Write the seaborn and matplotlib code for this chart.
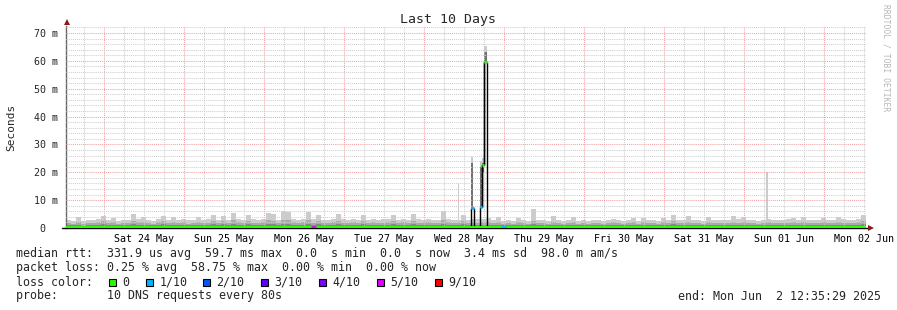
import numpy as np
import pandas as pd
import matplotlib
matplotlib.use("Agg")
import matplotlib.pyplot as plt
import matplotlib.dates as mdates
from matplotlib.ticker import MultipleLocator, FuncFormatter, NullFormatter
from matplotlib.patches import Rectangle
import seaborn as sns

# ---------------- data ----------------
start = pd.Timestamp("2025-05-23 12:35:29")
end = pd.Timestamp("2025-06-02 12:35:29")
bin_hours = 1.5

# smoke (ms): top of light / mid / dark gray bands, one value per 1.5 h bin
smoke_max = [2.8, 2.6, 4.0, 2.5, 2.9, 2.7, 3.1, 4.4, 2.8, 3.6,
             2.6, 3.0, 2.7, 4.9, 3.2, 4.0, 2.9, 2.6, 3.3, 4.4,
             3.0, 4.0, 2.8, 3.2, 2.7, 3.0, 4.0, 2.9, 3.1, 4.7,
             2.8, 4.3, 3.0, 5.3, 3.2, 2.9, 4.5, 3.1, 2.7, 3.4,
             5.3, 4.9, 3.0, 6.2, 5.7, 3.2, 2.9, 3.4, 5.7, 3.1,
             4.5, 3.0, 2.8, 3.3, 5.0, 3.1, 2.9, 3.2, 2.7, 4.8,
             3.0, 3.3, 2.8, 3.1, 3.4, 4.5, 2.9, 3.2, 3.0, 5.0,
             3.1, 2.8, 3.3, 3.0, 2.9, 6.0, 3.2, 3.0, 2.8, 4.5,
             3.0, 3.4, 3.1, 3.2, 3.6, 2.7, 3.8, 2.6, 2.9, 2.5,
             3.6, 2.8, 2.6, 6.8, 2.7, 2.9, 2.5, 4.3, 2.8, 2.6,
             2.9, 3.8, 2.6, 2.8, 2.5, 3.0, 2.7, 2.6, 2.9, 3.4,
             2.7, 2.5, 2.8, 3.5, 2.6, 3.6, 2.9, 2.7, 2.6, 3.5,
             2.8, 4.8, 2.9, 2.7, 4.2, 3.0, 2.8, 2.6, 3.8, 3.0,
             2.7, 2.9, 2.8, 4.2, 3.1, 3.9, 2.8, 2.9, 2.6, 3.0,
             3.2, 2.7, 2.9, 2.8, 3.1, 3.6, 2.7, 3.9, 2.9, 2.8,
             3.0, 3.6, 2.7, 2.9, 4.0, 3.1, 2.8, 3.0, 3.3, 4.5]
smoke_mid = [1.8, 1.6, 2.2, 1.5, 1.9, 1.7, 2.0, 2.4, 1.8, 2.1,
             1.6, 1.9, 1.7, 2.6, 2.0, 2.3, 1.8, 1.6, 2.0, 2.4,
             1.9, 2.2, 1.7, 2.0, 1.6, 1.9, 2.3, 1.8, 1.9, 2.5,
             1.7, 2.4, 1.9, 2.8, 2.0, 1.8, 2.4, 1.9, 1.7, 2.1,
             2.7, 2.5, 1.9, 3.0, 2.9, 2.0, 1.8, 2.1, 2.8, 1.9,
             2.4, 1.9, 1.7, 2.0, 2.6, 1.9, 1.8, 2.0, 1.7, 2.5,
             1.9, 2.0, 1.7, 1.9, 2.1, 2.4, 1.8, 2.0, 1.9, 2.6,
             1.9, 1.7, 2.0, 1.9, 1.8, 2.9, 2.0, 1.9, 1.7, 2.4,
             1.9, 2.1, 1.9, 2.0, 2.2, 1.7, 2.2, 1.6, 1.8, 1.6,
             2.1, 1.7, 1.6, 2.5, 1.7, 1.8, 1.6, 2.3, 1.7, 1.6,
             1.8, 2.1, 1.6, 1.7, 1.6, 1.9, 1.7, 1.6, 1.8, 2.0,
             1.7, 1.6, 1.7, 2.0, 1.6, 2.1, 1.8, 1.7, 1.6, 2.0,
             1.7, 2.5, 1.8, 1.7, 2.3, 1.9, 1.7, 1.6, 2.1, 1.9,
             1.7, 1.8, 1.7, 2.3, 1.9, 2.2, 1.7, 1.8, 1.6, 1.9,
             2.0, 1.7, 1.8, 1.7, 1.9, 2.1, 1.7, 2.2, 1.8, 1.7,
             1.9, 2.1, 1.7, 1.8, 2.3, 1.9, 1.7, 1.9, 2.0, 2.5]
smoke_low = [1.0, 0.9, 1.2, 0.8, 1.1, 0.9, 1.0, 1.3, 1.0, 1.1,
             0.9, 1.0, 0.9, 1.4, 1.1, 1.2, 1.0, 0.9, 1.1, 1.3,
             1.0, 1.2, 0.9, 1.1, 0.9, 1.0, 1.2, 1.0, 1.0, 1.3,
             0.9, 1.3, 1.0, 1.5, 1.1, 1.0, 1.3, 1.0, 0.9, 1.1,
             1.4, 1.3, 1.0, 1.6, 1.5, 1.1, 1.0, 1.1, 1.5, 1.0,
             1.3, 1.0, 0.9, 1.1, 1.4, 1.0, 1.0, 1.1, 0.9, 1.3,
             1.0, 1.1, 0.9, 1.0, 1.1, 1.3, 1.0, 1.1, 1.0, 1.4,
             1.0, 0.9, 1.1, 1.0, 1.0, 1.5, 1.1, 1.0, 0.9, 1.3,
             1.0, 1.1, 1.0, 1.1, 1.2, 0.9, 1.2, 0.9, 1.0, 0.9,
             1.1, 0.9, 0.9, 1.3, 0.9, 1.0, 0.9, 1.2, 0.9, 0.9,
             1.0, 1.1, 0.9, 0.9, 0.9, 1.0, 0.9, 0.9, 1.0, 1.1,
             0.9, 0.9, 0.9, 1.1, 0.9, 1.1, 1.0, 0.9, 0.9, 1.1,
             0.9, 1.3, 1.0, 0.9, 1.2, 1.0, 0.9, 0.9, 1.1, 1.0,
             0.9, 1.0, 0.9, 1.2, 1.0, 1.2, 0.9, 1.0, 0.9, 1.0,
             1.1, 0.9, 1.0, 0.9, 1.0, 1.1, 0.9, 1.2, 1.0, 0.9,
             1.0, 1.1, 0.9, 1.0, 1.2, 1.0, 0.9, 1.0, 1.1, 1.3]
median_ms = [0.3, 0.3, 0.4, 0.3, 0.3, 0.3, 0.4, 0.3, 0.3, 0.3,
             0.3, 0.4, 0.3, 0.3, 0.3, 0.3, 0.3, 0.4, 0.3, 0.3,
             0.3, 0.3, 0.3, 0.3, 0.4, 0.3, 0.3, 0.3, 0.3, 0.3,
             0.4, 0.3, 0.3, 0.3, 0.3, 0.3, 0.3, 0.4, 0.3, 0.3,
             0.3, 0.3, 0.3, 0.4, 0.4, 0.3, 0.3, 0.3, 0.3, 0.3,
             0.3, 0.3, 0.4, 0.3, 0.3, 0.3, 0.3, 0.3, 0.3, 0.4,
             0.3, 0.3, 0.3, 0.3, 0.3, 0.4, 0.3, 0.3, 0.3, 0.3,
             0.3, 0.3, 0.3, 0.4, 0.3, 0.3, 0.3, 0.3, 0.3, 0.3,
             0.3, 0.4, 0.3, 0.3, 0.3, 0.3, 0.3, 0.3, 0.4, 0.3,
             0.3, 0.3, 0.3, 0.3, 0.3, 0.4, 0.3, 0.3, 0.3, 0.3,
             0.3, 0.3, 0.4, 0.3, 0.3, 0.3, 0.3, 0.3, 0.3, 0.3,
             0.4, 0.3, 0.3, 0.3, 0.3, 0.3, 0.3, 0.4, 0.3, 0.3,
             0.3, 0.3, 0.3, 0.3, 0.4, 0.3, 0.3, 0.3, 0.3, 0.3,
             0.3, 0.4, 0.3, 0.3, 0.3, 0.3, 0.3, 0.3, 0.4, 0.3,
             0.3, 0.3, 0.3, 0.3, 0.3, 0.4, 0.3, 0.3, 0.3, 0.3,
             0.3, 0.3, 0.4, 0.3, 0.3, 0.3, 0.3, 0.3, 0.3, 0.3]
loss_bin = [49, 87]          # bins with packet loss
loss_bin_tenths = [5, 1]

# short spikes (hours after start)
spike_start_h = [117.45, 121.35, 124.2, 124.8, 125.4, 210.0]
spike_len_h = [0.3, 0.9, 0.6, 0.6, 0.9, 0.6]
spike_min = [0.0, 7.1, 7.6, 20.0, 59.7, 0.0]
spike_mid = [0.0, 23.3, 22.0, 23.5, 63.3, 0.0]
spike_max = [16.2, 25.6, 24.0, 25.0, 65.3, 20.0]
spike_median = [0.3, 7.1, 7.6, 22.6, 59.7, 0.3]
spike_loss = [0, 1, 1, 0, 0, 0]

loss_labels = ["0", "1/10", "2/10", "3/10", "4/10", "5/10", "9/10"]
loss_colors = ["#26ff00", "#00b8ff", "#0059ff", "#5e00ff", "#7e00ff", "#dd00ff", "#ff0000"]
loss_keys = [0, 1, 2, 3, 4, 5, 9]

stats_rtt = "median rtt:  331.9 us avg  59.7 ms max  0.0  s min  0.0  s now  3.4 ms sd  98.0 m am/s"
stats_loss = "packet loss: 0.25 % avg  58.75 % max  0.00 % min  0.00 % now"
probe_text = "probe:       10 DNS requests every 80s"
end_text = "end: Mon Jun  2 12:35:29 2025"

# ---------------- style ----------------
sns.set_style("white")
plt.rcParams["font.family"] = ["DejaVu Sans Mono", "DejaVu Sans"]

W, H = 897, 310
fig = plt.figure(figsize=(W / 100, H / 100), dpi=100)
fig.patch.set_facecolor("white")
ax = fig.add_axes([66 / W, (H - 228) / H, 800 / W, 202 / H])
ax.set_facecolor("white")


def loss_color(n):
    for k, c in zip(loss_keys[::-1], loss_colors[::-1]):
        if n >= k:
            return c
    return loss_colors[0]


t0 = mdates.date2num(start)
bin_w = bin_hours / 24
n = len(smoke_max)
t_bins = t0 + np.arange(n) * bin_w
t_sp = t0 + np.array(spike_start_h) / 24
w_sp = np.array(spike_len_h) / 24
sp_min = np.array(spike_min)

light_c, mid_c, dark_c = "#cbcbcb", "#a9a9a9", "#878787"
# smoke layers
ax.bar(t_bins, smoke_max, width=bin_w, align="edge", color=light_c, linewidth=0, zorder=1)
ax.bar(t_sp, np.array(spike_max) - sp_min, bottom=sp_min, width=w_sp, align="edge",
       color=light_c, linewidth=0, zorder=1)
ax.bar(t_bins, smoke_mid, width=bin_w, align="edge", color=mid_c, linewidth=0, zorder=1.1)
ax.bar(t_sp, np.clip(np.array(spike_mid) - sp_min, 0, None), bottom=sp_min, width=w_sp,
       align="edge", color="#727272", linewidth=0, zorder=1.1)
ax.bar(t_bins, smoke_low, width=bin_w, align="edge", color=dark_c, linewidth=0, zorder=1.2)

# median line (green, 0 loss)
med_df = pd.DataFrame({"t": np.append(t_bins, t_bins[-1] + bin_w),
                       "median": median_ms + [median_ms[-1]]})
sns.lineplot(data=med_df, x="t", y="median", drawstyle="steps-post",
             color=loss_colors[0], linewidth=1.4, ax=ax, zorder=7)
for b, l in zip(loss_bin, loss_bin_tenths):
    ax.hlines(median_ms[b], t_bins[b], t_bins[b] + bin_w, color=loss_color(l), lw=2, zorder=8)

# spike medians: black step outline + coloured top
base = 0.3
ns = len(spike_start_h)
for i in range(ns):
    m = spike_median[i]
    if m < 1:
        continue
    a = t_sp[i]
    b = t_sp[i] + w_sp[i]
    left = base
    if i > 0 and abs(t_sp[i - 1] + w_sp[i - 1] - a) < 1e-6:
        left = spike_median[i - 1]
    right = base
    if i < ns - 1 and abs(t_sp[i + 1] - b) < 1e-6:
        right = spike_median[i + 1]
    ax.plot([a, a], [left, m], color="black", lw=1, zorder=4, solid_capstyle="butt")
    ax.plot([b, b], [m, right], color="black", lw=1, zorder=4, solid_capstyle="butt")
    ax.hlines(m, a, b, color=loss_color(spike_loss[i]), lw=2.2, zorder=5)

# ---------------- axes ----------------
ax.set_xlim(t0, mdates.date2num(end))
ax.set_ylim(0, 72.5)
ax.xaxis_date()
ax.xaxis.set_major_locator(mdates.HourLocator(byhour=[0]))
ax.xaxis.set_minor_locator(mdates.HourLocator(byhour=[6, 12, 18]))
ax.xaxis.set_major_formatter(NullFormatter())


def day_fmt(x, pos):
    d = mdates.num2date(x)
    return d.strftime("%a %d %b") if d.hour == 12 else ""


ax.xaxis.set_minor_formatter(FuncFormatter(day_fmt))
ax.yaxis.set_major_locator(MultipleLocator(10))
ax.yaxis.set_minor_locator(MultipleLocator(2))
ax.yaxis.set_major_formatter(FuncFormatter(lambda v, p: "0  " if v == 0 else f"{int(v)} m"))

ax.set_axisbelow(False)
ax.grid(which="major", color="#f2a3a3", linestyle=(0, (1, 1)), linewidth=0.75)
ax.grid(which="minor", color="#cfcfcf", linestyle=(0, (1, 1)), linewidth=0.75)

ax.tick_params(axis="x", which="both", length=0, pad=4, labelsize=7.2, colors="#000000")
ax.tick_params(axis="x", which="major", length=3, color="#999999")
ax.tick_params(axis="y", which="major", length=4, pad=2, labelsize=7.2, color="#f2a3a3")
ax.tick_params(axis="y", which="minor", length=4, color="#cfcfcf")
ax.set_xlabel("")
ax.set_ylabel("")

for s in ["top", "right", "bottom"]:
    ax.spines[s].set_visible(False)
ax.spines["left"].set_color("#666666")
ax.spines["left"].set_linewidth(1)
ax.plot([-0.005, 1.004], [0, 0], color="black", lw=1, transform=ax.transAxes, clip_on=False, zorder=6)
ax.plot([0.0013], [1.02], marker="^", ms=4.5, color="#8b1a1a", transform=ax.transAxes,
        clip_on=False, zorder=9, markeredgewidth=0)
ax.plot([1.006], [0.0], marker=">", ms=4.5, color="#8b1a1a", transform=ax.transAxes,
        clip_on=False, zorder=9, markeredgewidth=0)


# ---------------- texts ----------------
def fx(x):
    return x / W


def fy(y):
    return 1 - y / H


fig.text(fx(448), fy(19), "Last 10 Days", ha="center", va="center", fontsize=9.5)
fig.text(fx(11), fy(127), "Seconds", ha="center", va="center", rotation=90, fontsize=8)
fig.text(fx(886), fy(58), "RRDTOOL / TOBI OETIKER", ha="center", va="center", rotation=270,
         fontsize=5.8, color="#b8b8b8")

fs = 8.4
fig.text(fx(16), fy(254), stats_rtt, ha="left", va="center", fontsize=fs)
fig.text(fx(16), fy(268), stats_loss, ha="left", va="center", fontsize=fs)
fig.text(fx(16), fy(282), "loss color:", ha="left", va="center", fontsize=fs)
sq_x = [108.7, 145.7, 203, 261, 318.7, 376.7, 435]
for x, lab, c in zip(sq_x, loss_labels, loss_colors):
    fig.add_artist(Rectangle((fx(x), fy(285.5)), 7 / W, 7 / H, transform=fig.transFigure,
                             facecolor=c, edgecolor="black", linewidth=0.8))
    fig.text(fx(x + 13.5), fy(282), lab, ha="left", va="center", fontsize=fs)
fig.text(fx(16), fy(296), probe_text, ha="left", va="center", fontsize=fs)
fig.text(fx(678), fy(296), end_text, ha="left", va="center", fontsize=fs)

fig.savefig("out.png", dpi=100, facecolor="white")
